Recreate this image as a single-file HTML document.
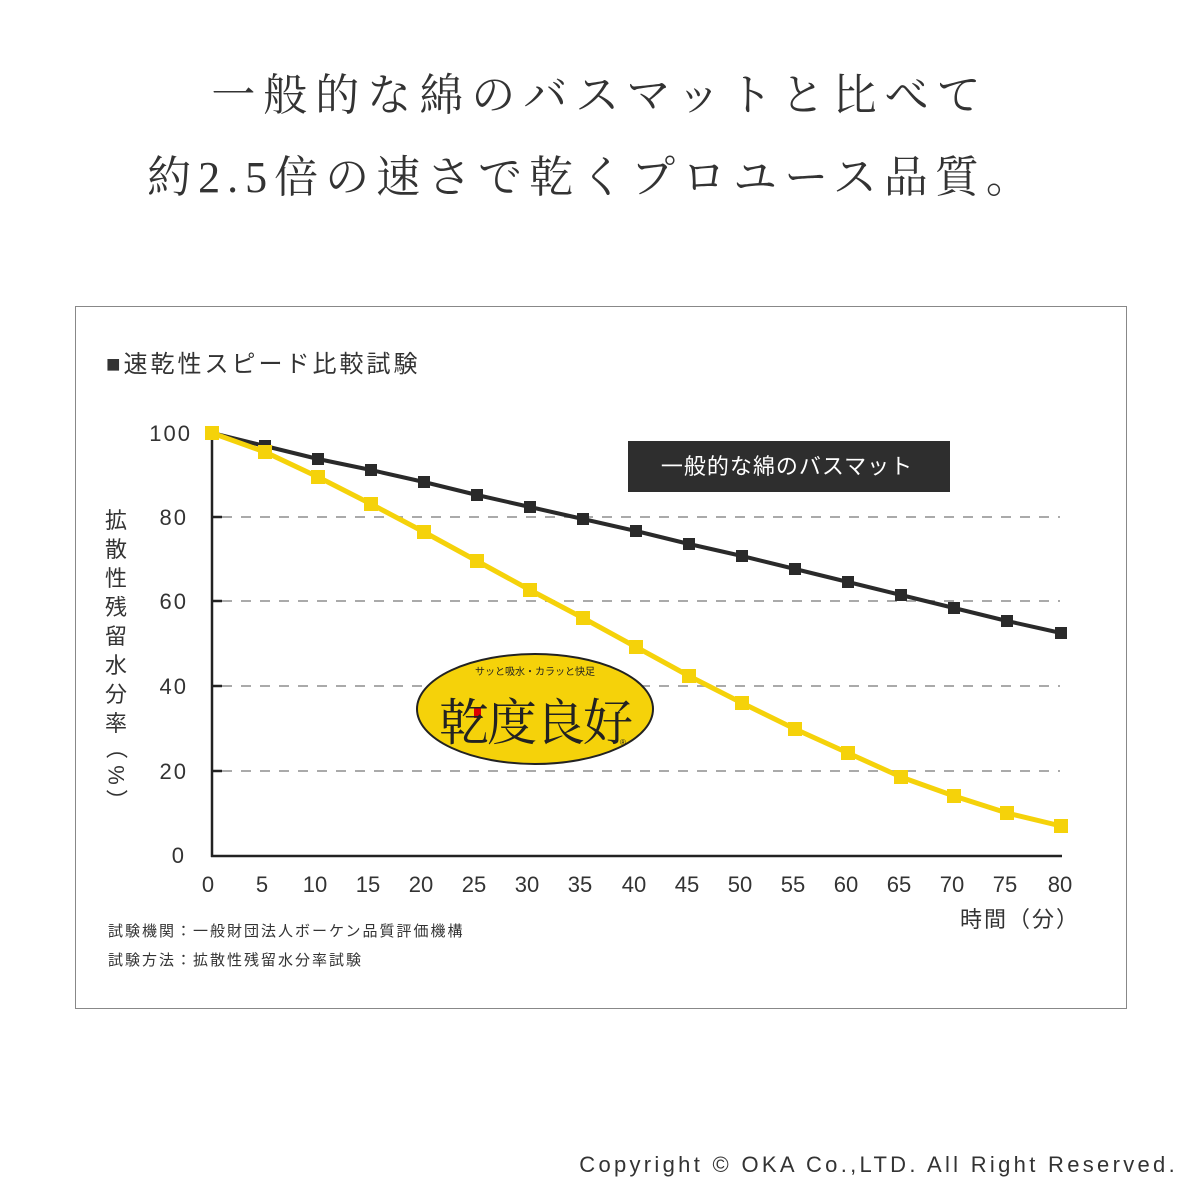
<!DOCTYPE html><html><head><meta charset="utf-8"><style>body{margin:0;background:#fff}svg{display:block}</style></head><body>
<svg width="1200" height="1200" xmlns="http://www.w3.org/2000/svg" font-family="'Liberation Sans','Noto Sans CJK JP',sans-serif">
<rect width="1200" height="1200" fill="#fff"/>
<g font-family="'Liberation Serif','Noto Serif CJK SC',serif" fill="#333" font-size="44" text-anchor="middle">
<text x="600" y="110" letter-spacing="8">一般的な綿のバスマットと比べて</text>
<text x="592" y="192" letter-spacing="7">約2.5倍の速さで乾くプロユース品質。</text>
</g>
<rect x="75.5" y="306.5" width="1051" height="702" fill="#fff" stroke="#888" stroke-width="1"/>
<text x="106" y="372" font-size="24" fill="#333" letter-spacing="3">■速乾性スピード比較試験</text>
<g stroke="#aaa" stroke-width="2" stroke-dasharray="10 9">
<line x1="222" y1="517" x2="1060" y2="517"/><line x1="222" y1="601" x2="1060" y2="601"/>
<line x1="222" y1="686" x2="1060" y2="686"/><line x1="222" y1="771" x2="1060" y2="771"/>
</g>
<g stroke="#222" stroke-width="2.5">
<line x1="212" y1="433" x2="212" y2="857"/><line x1="211" y1="856" x2="1062" y2="856"/>
<line x1="212" y1="517" x2="222" y2="517"/><line x1="212" y1="601" x2="222" y2="601"/><line x1="212" y1="686" x2="222" y2="686"/><line x1="212" y1="771" x2="222" y2="771"/>
</g>
<g font-size="22" fill="#333" text-anchor="end" letter-spacing="2">
<text x="192" y="441">100</text><text x="188" y="525">80</text><text x="188" y="609">60</text><text x="188" y="694">40</text><text x="188" y="779">20</text><text x="186" y="863">0</text>
</g>
<g font-size="22" fill="#333" text-anchor="middle">
<text x="208" y="892">0</text><text x="262" y="892">5</text><text x="315" y="892">10</text><text x="368" y="892">15</text><text x="421" y="892">20</text><text x="474" y="892">25</text><text x="527" y="892">30</text><text x="580" y="892">35</text><text x="634" y="892">40</text><text x="687" y="892">45</text><text x="740" y="892">50</text><text x="793" y="892">55</text><text x="846" y="892">60</text><text x="899" y="892">65</text><text x="952" y="892">70</text><text x="1005" y="892">75</text><text x="1060" y="892">80</text>
</g>
<text x="1020" y="927" font-size="22" fill="#333" text-anchor="middle" letter-spacing="2">時間（分）</text>
<g font-size="22" fill="#333" text-anchor="middle">
<text x="116" y="528">拡</text><text x="116" y="557">散</text><text x="116" y="586">性</text><text x="116" y="615">残</text><text x="116" y="644">留</text><text x="116" y="673">水</text><text x="116" y="702">分</text><text x="116" y="731">率</text>
</g>
<g font-size="22" fill="#333" text-anchor="middle" dominant-baseline="central">
<text x="116" y="748" transform="rotate(90 116 748)">（</text>
<text x="116" y="775" transform="rotate(90 116 775)">%</text>
<text x="116" y="800" transform="rotate(90 116 800)">）</text>
</g>
<g font-size="15" fill="#333" letter-spacing="2"><text x="108" y="936">試験機関：一般財団法人ボーケン品質評価機構</text><text x="108" y="965">試験方法：拡散性残留水分率試験</text></g>
<polyline fill="none" stroke="#2a2a2a" stroke-width="4" points="212,433 265,446 318,459 371,470 424,482 477,495 530,507 583,519 636,531 689,544 742,556 795,569 848,582 901,595 954,608 1007,621 1061,633"/>
<g fill="#2a2a2a"><rect x="206" y="427" width="12" height="12"/><rect x="259" y="440" width="12" height="12"/><rect x="312" y="453" width="12" height="12"/><rect x="365" y="464" width="12" height="12"/><rect x="418" y="476" width="12" height="12"/><rect x="471" y="489" width="12" height="12"/><rect x="524" y="501" width="12" height="12"/><rect x="577" y="513" width="12" height="12"/><rect x="630" y="525" width="12" height="12"/><rect x="683" y="538" width="12" height="12"/><rect x="736" y="550" width="12" height="12"/><rect x="789" y="563" width="12" height="12"/><rect x="842" y="576" width="12" height="12"/><rect x="895" y="589" width="12" height="12"/><rect x="948" y="602" width="12" height="12"/><rect x="1001" y="615" width="12" height="12"/><rect x="1055" y="627" width="12" height="12"/></g>
<polyline fill="none" stroke="#f5d20a" stroke-width="5" points="212,433 265,452 318,477 371,504 424,532 477,561 530,590 583,618 636,647 689,676 742,703 795,729 848,753 901,777 954,796 1007,813 1061,826"/>
<g fill="#f5d20a"><rect x="205" y="426" width="14" height="14"/><rect x="258" y="445" width="14" height="14"/><rect x="311" y="470" width="14" height="14"/><rect x="364" y="497" width="14" height="14"/><rect x="417" y="525" width="14" height="14"/><rect x="470" y="554" width="14" height="14"/><rect x="523" y="583" width="14" height="14"/><rect x="576" y="611" width="14" height="14"/><rect x="629" y="640" width="14" height="14"/><rect x="682" y="669" width="14" height="14"/><rect x="735" y="696" width="14" height="14"/><rect x="788" y="722" width="14" height="14"/><rect x="841" y="746" width="14" height="14"/><rect x="894" y="770" width="14" height="14"/><rect x="947" y="789" width="14" height="14"/><rect x="1000" y="806" width="14" height="14"/><rect x="1054" y="819" width="14" height="14"/></g>
<rect x="628" y="441" width="322" height="51" fill="#2e2e2e"/>
<text x="787" y="474" font-size="22" fill="#fff" text-anchor="middle" letter-spacing="1">一般的な綿のバスマット</text>
<ellipse cx="535" cy="709" rx="118" ry="55" fill="#f5d20a" stroke="#222" stroke-width="2"/>
<text x="535" y="675" font-size="10" fill="#222" text-anchor="middle">サッと吸水・カラッと快足</text>
<rect x="474" y="708" width="7" height="10" fill="#d00"/>
<text x="535" y="740" font-size="50" fill="#222" text-anchor="middle" font-family="'Noto Serif CJK SC',serif" letter-spacing="-2">乾度良好</text>
<text x="620" y="745" font-size="8" fill="#222">®</text>
<text x="1178" y="1172" font-size="22" fill="#333" text-anchor="end" letter-spacing="3.3">Copyright  © OKA Co.,LTD. All Right Reserved.</text>
</svg>
</body></html>
